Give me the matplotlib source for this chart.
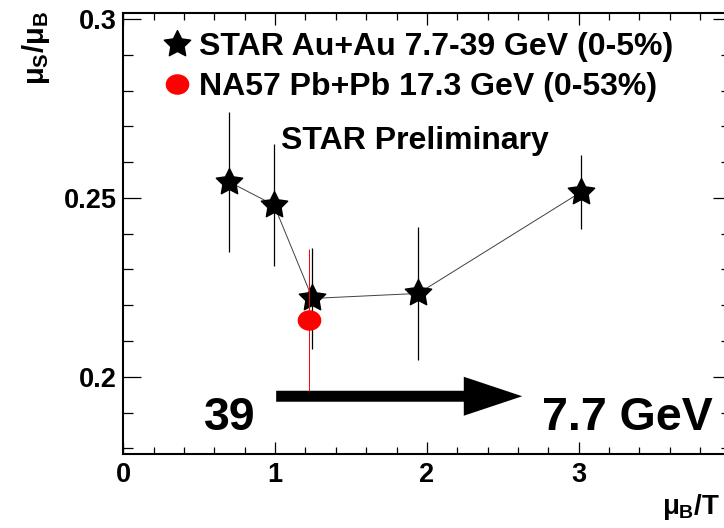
import numpy as np
import matplotlib
matplotlib.use("Agg")
import matplotlib.pyplot as plt
from matplotlib.path import Path
from matplotlib.patches import FancyArrow
from matplotlib.lines import Line2D
from matplotlib.ticker import MultipleLocator

# STAR Au+Au central collisions, 7.7-39 GeV
star_mub_t = [0.697, 0.993, 1.246, 1.943, 3.017]
star_ratio = [0.2545, 0.2480, 0.2219, 0.2233, 0.2517]
star_err = [0.0195, 0.0170, 0.0140, 0.0185, 0.0103]

# NA57 Pb+Pb 17.3 GeV
na57_mub_t = [1.226]
na57_ratio = [0.2158]
na57_err = [0.0198]

star_label = "STAR Au+Au 7.7-39 GeV (0-5%)"
na57_label = "NA57 Pb+Pb 17.3 GeV (0-53%)"

plt.rcParams["font.family"] = ["Liberation Sans", "DejaVu Sans"]
plt.rcParams["font.weight"] = "bold"
plt.rcParams["mathtext.fontset"] = "custom"
plt.rcParams["mathtext.rm"] = "Liberation Sans"
plt.rcParams["mathtext.it"] = "Liberation Sans"
plt.rcParams["mathtext.bf"] = "Liberation Sans:bold"

W, H = 724, 528
fig = plt.figure(figsize=(W / 100, H / 100), dpi=100)
ax = fig.add_axes([123.3 / W, (H - 454) / H, 607.2 / W, (454 - 12.7) / H])

ax.set_xlim(0, 4)
ax.set_ylim(0.1784, 0.3018)

# plump five-pointed star marker
ang = np.pi / 2 + np.arange(10) * np.pi / 5
rad = np.where(np.arange(10) % 2 == 0, 1.0, 0.5)
star_verts = np.column_stack([rad * np.cos(ang), rad * np.sin(ang)])
star_verts = np.vstack([star_verts, star_verts[:1]])
star_codes = [Path.MOVETO] + [Path.LINETO] * 9 + [Path.CLOSEPOLY]
star_mark = Path(star_verts, star_codes)

# slightly flattened disc for the NA57 point
circ = Path.unit_circle()
ellipse = Path(circ.vertices * [1.0, 0.86], circ.codes)

ax.plot(star_mub_t, star_ratio, color="0.25", lw=0.7, zorder=2)
ax.errorbar(star_mub_t, star_ratio, yerr=star_err, fmt="none",
            ecolor="black", elinewidth=0.9, capsize=0, zorder=3)
ax.plot(star_mub_t, star_ratio, ls="none", marker=star_mark, ms=20,
        color="black", zorder=4)
ax.errorbar(na57_mub_t, na57_ratio, yerr=na57_err, fmt="none",
            ecolor="red", elinewidth=0.7, capsize=0, zorder=5)
ax.plot(na57_mub_t, na57_ratio, ls="none", marker=ellipse, ms=16,
        color="red", zorder=6)

# collision energy direction
ax.add_patch(FancyArrow(1.007, 0.19455, 1.621, 0.0, width=0.00307,
                        head_width=0.0109, head_length=0.385,
                        length_includes_head=True, color="black", lw=0,
                        zorder=3))
ax.text(0.53, 0.1852, "39", fontsize=33.5, fontweight="bold",
        ha="left", va="baseline")
ax.text(2.76, 0.1852, "7.7 GeV", fontsize=33.5, fontweight="bold",
        ha="left", va="baseline")
ax.text(1.04, 0.2636, "STAR Preliminary", fontsize=23,
        fontweight="bold", ha="left", va="baseline")

handles = [
    Line2D([], [], ls="none", marker=star_mark, ms=20, color="black"),
    Line2D([], [], ls="none", marker=ellipse, ms=16, color="red"),
]
ax.legend(handles, [star_label, na57_label], loc="upper left",
          bbox_to_anchor=(164 / W, 1 - 32 / H),
          bbox_transform=fig.transFigure, frameon=False,
          prop={"size": 23, "weight": "bold"}, handlelength=0.8,
          handletextpad=0.3, labelspacing=0.32, borderpad=0,
          borderaxespad=0)

# axis frame and ticks
for sp in ax.spines.values():
    sp.set_linewidth(1.5)
ax.xaxis.set_major_locator(MultipleLocator(1))
ax.xaxis.set_minor_locator(MultipleLocator(0.2))
ax.yaxis.set_major_locator(MultipleLocator(0.05))
ax.yaxis.set_minor_locator(MultipleLocator(0.01))
ax.xaxis.set_major_formatter(
    plt.FuncFormatter(lambda v, p: f"{v:g}" if v < 3.5 else ""))
ax.yaxis.set_major_formatter(plt.FuncFormatter(lambda v, p: f"{v:g}"))
ax.tick_params(axis="both", which="both", direction="in",
               top=True, right=True, width=0.9, labelsize=19.5)
ax.tick_params(axis="x", which="major", length=8.9, pad=5.5)
ax.tick_params(axis="x", which="minor", length=4.8)
ax.tick_params(axis="y", which="major", length=13, pad=4.5)
ax.tick_params(axis="y", which="minor", length=7.2)
for lab in ax.get_xticklabels() + ax.get_yticklabels():
    lab.set_fontweight("bold")

fig.text(36 / W, 1 - 11 / H, r"$\mu_{\mathbf{S}}/\mu_{\mathbf{B}}$",
         fontsize=21, rotation=90, ha="center", va="top")
fig.text(662 / W, 1 - 492 / H, r"$\mu_{\mathbf{B}}\mathbf{/T}$",
         fontsize=20, ha="left", va="top")

fig.savefig("out.png", dpi=100)
